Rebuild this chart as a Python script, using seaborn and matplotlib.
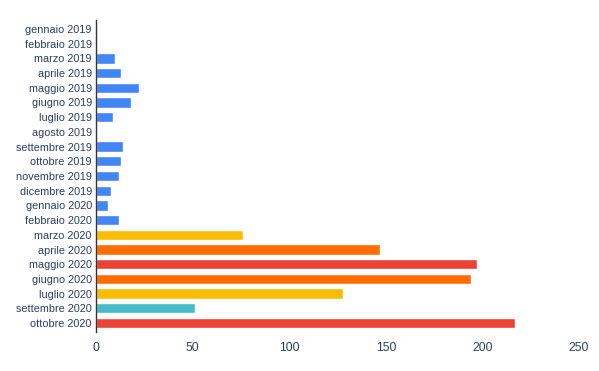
import pandas as pd
import matplotlib
matplotlib.use("Agg")
import matplotlib.pyplot as plt
import seaborn as sns

# Months and values
months = ['gennaio 2019', 'febbraio 2019', 'marzo 2019', 'aprile 2019', 'maggio 2019',
          'giugno 2019', 'luglio 2019', 'agosto 2019', 'settembre 2019', 'ottobre 2019',
          'novembre 2019', 'dicembre 2019', 'gennaio 2020', 'febbraio 2020', 'marzo 2020',
          'aprile 2020', 'maggio 2020', 'giugno 2020', 'luglio 2020', 'settembre 2020',
          'ottobre 2020']
values = [0.5, 0.5, 10, 13, 22, 18, 9, 0, 14, 13, 12, 8, 6, 12, 76, 147, 197, 194, 128, 51, 217]

blue, yellow, orange, red, teal = '#4285f4', '#fbbc04', '#ff6d01', '#ea4335', '#46bdc6'
bar_colors = [blue] * 14 + [yellow, orange, red, orange, yellow, teal, red]

data = pd.DataFrame({'mese': months, 'valore': values})

sns.set_style('white')
plt.rcParams['font.family'] = ['Liberation Sans', 'DejaVu Sans']

fig = plt.figure(figsize=(5.99, 3.71), dpi=100)
ax = fig.add_axes([96 / 599, 1 - 332 / 371, (579 - 96) / 599, (332 - 20) / 371])

sns.barplot(data=data, x='valore', y='mese', hue='mese', palette=bar_colors,
            legend=False, width=0.7, ax=ax, saturation=1)

ax.set_xlim(0, 250)
ax.set_ylim(len(months) - 1 + 0.61, -0.61)
ax.set_xticks([0, 50, 100, 150, 200, 250])
ax.set_xlabel('')
ax.set_ylabel('')

label_color = '#2a3d66'
ax.tick_params(axis='y', length=0, pad=3, labelsize=7.8, labelcolor=label_color)
ax.tick_params(axis='x', length=0, pad=7, labelsize=8.7, labelcolor=label_color)

for side in ['top', 'right', 'bottom']:
    ax.spines[side].set_visible(False)
ax.spines['left'].set_color('#333333')
ax.spines['left'].set_linewidth(1)

fig.savefig('out.png', dpi=100)
